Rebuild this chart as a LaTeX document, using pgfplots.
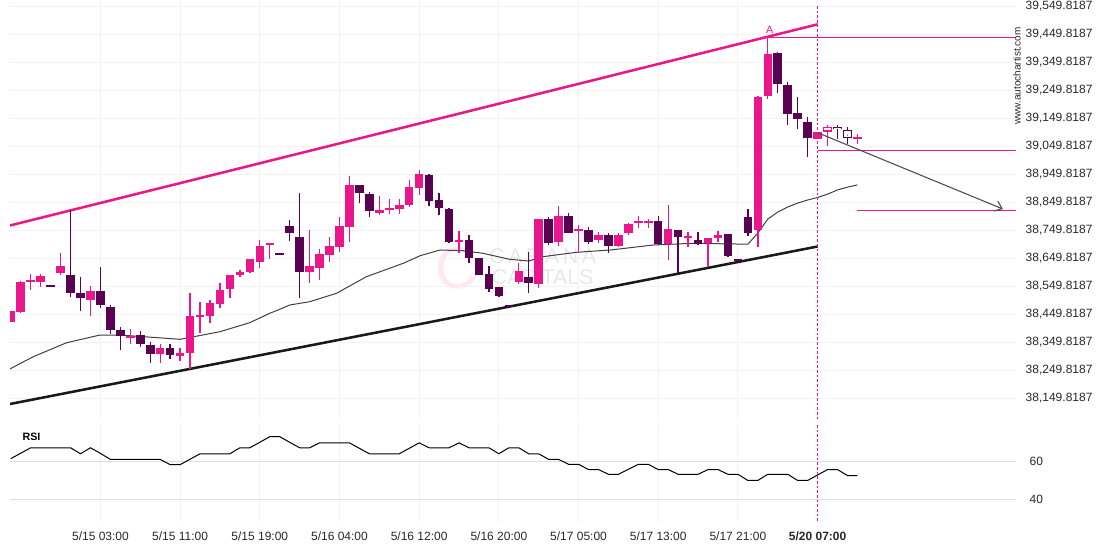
\documentclass[border=0pt]{standalone}
\usepackage{pgfplots}
\pgfplotsset{compat=1.18}
\usepackage{pgfplotstable}
\usepackage{fontspec}
\setmainfont{Liberation Sans}
\usetikzlibrary{arrows.meta}
\definecolor{pk}{RGB}{233,22,140}
\definecolor{dk}{RGB}{90,2,82}
\definecolor{gridc}{RGB}{243,243,243}
\definecolor{rgrid}{RGB}{222,222,222}
\definecolor{txt}{RGB}{40,40,40}

\pgfplotstableread{
i o h l c
0 38423.4 38462.7 38423.4 38462.7
1 38456.9 38568.7 38454.5 38566.2
2 38565.2 38592.7 38536.6 38573.4
3 38566.2 38592.7 38546.2 38587.7
5 38596.2 38667.7 38590.2 38622.3
8 38502.0 38551.9 38443.7 38533.0
12 38365.2 38396.2 38343.7 38373.4
15 38309.1 38343.7 38274.8 38330.5
17 38302.0 38328.4 38284.1 38312.7
18 38312.7 38524.8 38253.4 38443.7
19 38443.7 38492.7 38382.0 38447.3
20 38444.8 38500.9 38417.7 38491.3
21 38486.6 38560.5 38471.2 38536.6
22 38540.2 38590.2 38507.0 38590.2
23 38590.2 38608.0 38584.1 38600.9
24 38602.0 38647.3 38596.2 38647.3
25 38637.7 38715.2 38614.1 38693.7
26 38698.4 38701.9 38646.2 38701.9
30 38600.9 38750.9 38560.5 38622.3
31 38616.2 38682.0 38572.3 38665.2
32 38661.6 38724.8 38635.5 38693.7
33 38690.2 38796.2 38671.2 38765.2
34 38762.7 38943.7 38709.1 38911.6
37 38812.7 38872.3 38804.4 38822.3
38 38824.8 38860.5 38808.0 38827.0
39 38825.9 38860.5 38808.0 38840.2
40 38840.2 38929.4 38834.1 38905.5
41 38902.0 38965.2 38875.9 38950.9
45 38709.1 38748.4 38669.8 38715.2
51 38565.2 38631.9 38556.9 38604.5
53 38558.0 38790.2 38542.7 38790.2
55 38709.1 38836.6 38693.7 38800.9
57 38749.8 38768.7 38667.7 38752.0
59 38715.2 38744.8 38703.4 38733.0
61 38694.8 38741.2 38691.2 38733.0
62 38739.1 38774.8 38733.0 38772.3
63 38774.8 38800.9 38756.9 38783.0
64 38779.8 38789.1 38759.1 38781.2
66 38700.9 38840.2 38643.7 38754.4
68 38724.1 38744.8 38691.2 38725.5
70 38703.4 38722.3 38619.8 38722.3
71 38723.4 38747.3 38709.1 38733.0
75 38750.9 39230.5 38689.1 39226.9
76 39230.5 39439.1 39217.7 39379.4
81 39074.8 39099.8 39074.8 39099.8
82 39101.9 39125.9 39050.9 39119.8
85 39079.4 39093.7 39058.0 39079.4
}\bull

\pgfplotstableread{
i o h l c
4 38549.8 38549.8 38549.8 38549.8
6 38590.2 38822.3 38512.7 38527.0
7 38525.9 38584.1 38462.7 38509.1
9 38533.0 38617.7 38473.4 38483.0
10 38475.9 38483.0 38379.5 38394.8
11 38393.7 38403.4 38322.3 38373.4
13 38375.9 38391.2 38334.1 38344.8
14 38340.2 38351.9 38274.8 38309.1
16 38330.5 38343.7 38290.2 38303.4
27 38666.9 38666.9 38666.9 38666.9
28 38765.2 38786.6 38712.7 38741.2
29 38725.9 38881.9 38507.0 38600.9
35 38911.6 38911.6 38846.2 38881.9
36 38879.4 38885.5 38796.2 38819.8
42 38947.3 38950.9 38837.7 38855.5
43 38858.0 38881.9 38804.4 38830.5
44 38825.9 38828.4 38703.4 38709.1
46 38715.2 38733.0 38633.0 38650.9
47 38651.9 38651.9 38590.2 38591.2
48 38593.7 38622.3 38531.2 38539.4
49 38548.4 38548.4 38510.5 38515.2
50 38480.5 38480.5 38480.5 38480.5
52 38582.0 38673.4 38524.8 38562.7
54 38789.1 38796.2 38697.3 38703.4
56 38800.9 38810.5 38739.1 38741.2
58 38750.9 38760.5 38699.8 38709.1
60 38733.0 38741.2 38667.7 38694.8
65 38783.0 38800.9 38697.3 38700.9
67 38750.9 38750.9 38598.4 38724.8
69 38715.2 38744.8 38697.3 38700.9
72 38736.6 38736.6 38653.4 38658.0
73 38643.7 38643.7 38643.7 38643.7
74 38797.3 38824.8 38731.2 38739.1
77 39384.1 39387.7 39241.2 39272.3
78 39268.7 39280.5 39125.9 39165.2
79 39169.8 39224.8 39110.5 39146.2
80 39135.5 39155.5 39010.5 39078.4
83 39119.8 39125.9 39074.8 39110.5
84 39108.0 39117.7 39058.0 39078.4
}\bear

\pgfplotstableread{
i lo hi
82 39106.3 39115.5
83 39114.2 39116.2
84 39082.7 39103.8
}\hollow

\pgfplotstableread{
i rsi
0 61.6
1 64.5
2 67.4
3 67.4
4 67.4
5 67.4
6 67.4
7 64.2
8 67.4
9 64.4
10 61.2
11 61.2
12 61.2
13 61.2
14 61.2
15 61.2
16 58.4
17 58.4
18 61.3
19 64.2
20 64.2
21 64.2
22 64.2
23 67.4
24 67.4
25 70.3
26 73.3
27 73.3
28 70.3
29 67.4
30 67.4
31 70
32 70
33 70
34 70
35 67.1
36 64.2
37 64.2
38 64.2
39 64.2
40 67.1
41 70
42 67.4
43 67.4
44 67.4
45 70
46 67.4
47 67.4
48 67.4
49 64.2
50 67.4
51 67.4
52 64.2
53 64.2
54 61.2
55 61.2
56 58.6
57 58.6
58 55.8
59 55.8
60 53.3
61 53.3
62 55.9
63 58.6
64 58.6
65 55.8
66 55.8
67 53.3
68 53.3
69 53.3
70 55.8
71 55.8
72 53.3
73 53.3
74 50
75 50
76 53.3
77 53.3
78 53.3
79 50
80 50
81 52.9
82 55.8
83 55.8
84 52.6
85 52.6
}\rsi

\pgfplotsset{
  candle/.style={only marks, mark=*, mark size=0.01pt, mark options={draw=none, fill=none},
    error bars/.cd, y dir=both, y explicit, error mark=none,
    error bar style={line width=#1, line cap=butt}},
}

\begin{document}
\begin{tikzpicture}
\useasboundingbox (0,0) rectangle (832.5pt,-412.5pt);
\begin{axis}[
  at={(7.5pt,0pt)}, anchor=north west, scale only axis,
  width=754.5pt, height=315pt,
  xmin=-0.08, xmax=100.92, ymin=38072.32, ymax=39572.32,
  axis line style={draw=none}, major tick length=0pt,
  xtick={9,17,25,33,41,49,57,65,73,81}, xticklabels={},
  ytick={38149.8187,38249.8187,38349.8187,38449.8187,38549.8187,38649.8187,38749.8187,38849.8187,38949.8187,39049.8187,39149.8187,39249.8187,39349.8187,39449.8187,39549.8187},
  yticklabels={{38,149.8187},{38,249.8187},{38,349.8187},{38,449.8187},{38,549.8187},{38,649.8187},{38,749.8187},{38,849.8187},{38,949.8187},{39,049.8187},{39,149.8187},{39,249.8187},{39,349.8187},{39,449.8187},{39,549.8187}},
  yticklabel pos=right,
  yticklabel style={anchor=west, xshift=3.75pt, font=\fontsize{9}{10}\selectfont, text=txt},
  grid=major, major grid style={gridc, line width=0.75pt},
]
% watermark
\node[text=pk!10, font=\fontsize{44}{44}\selectfont] at (axis cs:44.8,38615) {C};
\node[text=black!9, font=\fontsize{16}{16}\selectfont] at (axis cs:53.4,38658) {C\,A\,R\,A\,N\,A};
\node[text=black!9, font=\fontsize{16}{16}\selectfont] at (axis cs:53.4,38583) {CAPITALS};
% trend lines
\addplot[pk, line width=1.9pt] coordinates {(-0.08,38767.0) (81,39485.5)};
\addplot[black!90, line width=1.9pt] coordinates {(-0.08,38129.5) (81,38692.0)};
% moving average
\addplot[black!75, line width=0.75pt] coordinates {
(-0.08,38255) (2.26,38298.4) (5.6,38348.3) (8.96,38375.9) (10.96,38375.9) (17,38360.5) (21,38387.7) (24,38420.1) (26,38453.4) (27,38467.7) (28,38483.0) (30,38494.8) (32.7,38524.8) (35.7,38584.1) (39.4,38632.0) (41.1,38659.1) (43.1,38679.5) (45.4,38677.0) (47.4,38667.7) (50.1,38646.2) (52,38640.2) (53.4,38655.5) (56.8,38671.3) (60.2,38679.5) (64.5,38697.3) (68.5,38703.4) (74,38700.2) (75,38740) (76,38790) (77,38815) (78,38833) (79,38847) (80,38858) (81,38867) (82,38879) (83,38894) (84,38904) (85,38912)};
% wicks
\addplot[pk, candle=1pt]
  table[x=i, y expr={(\thisrow{h}+\thisrow{l})/2}, y error expr={(\thisrow{h}-\thisrow{l})/2}] {\bull};
\addplot[dk, candle=1pt]
  table[x=i, y expr={(\thisrow{h}+\thisrow{l})/2}, y error expr={(\thisrow{h}-\thisrow{l})/2}] {\bear};
% bodies
\addplot[pk, candle=6.4pt]
  table[x=i, y expr={(\thisrow{o}+\thisrow{c})/2}, y error expr={max(abs(\thisrow{c}-\thisrow{o})/2,3)}] {\bull};
\addplot[dk, candle=6.4pt]
  table[x=i, y expr={(\thisrow{o}+\thisrow{c})/2}, y error expr={max(abs(\thisrow{c}-\thisrow{o})/2,3)}] {\bear};
\addplot[white, candle=4.6pt]
  table[x=i, y expr={(\thisrow{lo}+\thisrow{hi})/2}, y error expr={(\thisrow{hi}-\thisrow{lo})/2}] {\hollow};
% levels
\addplot[pk, line width=0.75pt] coordinates {(75.9,39439.1) (100.92,39439.1)};
\addplot[pk, line width=0.75pt] coordinates {(81,39035.5) (100.92,39035.5)};
\addplot[pk, line width=0.75pt] coordinates {(85,38821.3) (100.92,38821.3)};
\addplot[pk, line width=0.75pt, dash pattern=on 2pt off 1.5pt] coordinates {(81,39550.9) (81,38072.32)};
\addplot[black!70, line width=0.8pt, -{Straight Barb[length=5pt,width=8pt]}] coordinates {(81,39098.4) (99.6,38825.9)};
\node[text=pk, font=\fontsize{8}{8}\selectfont] at (axis cs:76.2,39466) {A};
\end{axis}
\node[rotate=90, font=\fontsize{7.5}{7.5}\selectfont, text=txt] at (762.75pt,-57pt) {www.autochartist.com};
\begin{axis}[
  at={(7.5pt,-318.75pt)}, anchor=north west, scale only axis,
  width=754.5pt, height=72.75pt,
  xmin=-0.08, xmax=100.92, ymin=27.9, ymax=79.5,
  axis line style={draw=none}, major tick length=0pt,
  xtick={9,17,25,33,41,49,57,65,73,81},
  xticklabels={5/15 03:00,5/15 11:00,5/15 19:00,5/16 04:00,5/16 12:00,5/16 20:00,5/17 05:00,5/17 13:00,5/17 21:00,\textbf{5/20 07:00}},
  xticklabel style={font=\fontsize{9}{10}\selectfont, text=txt, yshift=-4pt},
  ytick={40,60}, yticklabels={40,60},
  yticklabel pos=right,
  yticklabel style={anchor=west, xshift=6.75pt, font=\fontsize{9}{10}\selectfont, text=txt},
  xmajorgrids, ymajorgrids,
  x grid style={gridc, line width=0.75pt},
  y grid style={rgrid, line width=0.75pt},
]
\addplot[black, line width=0.75pt] table[x=i, y=rsi] {\rsi};
\addplot[pk, line width=0.75pt, dash pattern=on 2pt off 1.5pt] coordinates {(81,79.5) (81,27.9)};
\node[anchor=west, font=\bfseries\fontsize{8}{8}\selectfont] at (axis cs:0.72,73.1) {RSI};
\end{axis}
\end{tikzpicture}
\end{document}
